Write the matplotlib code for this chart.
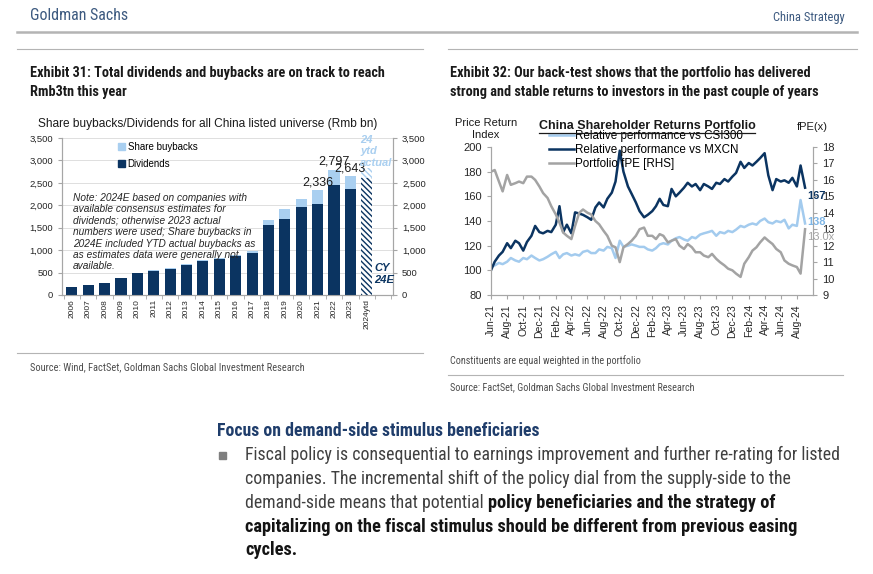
import matplotlib
matplotlib.use("Agg")
import matplotlib.pyplot as plt
import matplotlib.dates as mdates
import matplotlib.ticker as mtick
from matplotlib import font_manager
from matplotlib.lines import Line2D
from matplotlib.patches import Patch, Rectangle
import numpy as np
import pandas as pd


def pick_font(names):
    for n in names:
        try:
            font_manager.findfont(n, fallback_to_default=False)
            return n
        except ValueError:
            pass
    return "DejaVu Sans"


NARROW = pick_font(["Liberation Sans Narrow", "Roboto Condensed", "Liberation Sans"])
ARIAL = pick_font(["Liberation Sans", "Arial"])

# ── Colours ───────────────────────────────────────────────────────────────────
NAVY = "#0b3461"
LIGHT = "#a9cff0"
LINE_LIGHT = "#a3cbee"
GRAY = "#a3a3a3"
GS_BLUE = "#3d5a80"
SPINE = "#a6a6a6"

# ── Exhibit 31 data (Rmb bn) ─────────────────────────────────────────────────
years = ["2006", "2007", "2008", "2009", "2010", "2011", "2012", "2013", "2014",
         "2015", "2016", "2017", "2018", "2019", "2020", "2021", "2022", "2023",
         "2024ytd"]
dividends = [170, 225, 265, 385, 500, 545, 590, 665, 755, 800, 870, 935,
             1565, 1700, 1955, 2035, 2445, 2370, 2600]
buybacks = [0, 0, 0, 0, 0, 5, 5, 15, 20, 30, 30, 50,
            110, 225, 180, 301, 352, 273, 230]
labelled = {"2021": "2,336", "2022": "2,797", "2023": "2,643"}

# ── Exhibit 32 data (semi-monthly, Jun-21 .. Sep-24) ─────────────────────────
mxcn = [100, 107, 112, 115, 122, 118, 124, 122, 116, 123,
        128, 136, 131, 130, 132, 131, 137, 152, 131, 137,
        130, 147, 146, 145, 143, 141, 151, 155, 151, 158,
        163, 172, 197, 180, 168, 162, 155, 148, 143, 145,
        148, 152, 158, 153, 152, 166, 160, 163, 167, 171,
        168, 170, 165, 170, 168, 166, 171, 170, 174, 172,
        176, 179, 188, 183, 187, 185, 188, 191, 195, 177,
        165, 174, 172, 173, 171, 175, 168, 185, 167]
csi300 = [103, 104, 106, 105, 107, 110, 108, 107, 110, 109,
          112, 110, 108, 109, 111, 113, 115, 110, 113, 114,
          112, 113, 112, 115, 116, 114, 114, 117, 116, 119,
          118, 110, 124, 119, 120, 121, 120, 119, 119, 117,
          116, 118, 121, 122, 121, 124, 126, 127, 125, 124,
          127, 126, 129, 130, 131, 132, 128, 131, 130, 132,
          131, 133, 136, 135, 137, 138, 137, 140, 142, 139,
          138, 140, 139, 141, 134, 137, 136, 157, 138]
fpe = [16.5, 16.6, 15.9, 15.3, 16.3, 15.7, 15.8, 15.9, 15.8, 16.2,
       16.2, 16.0, 15.6, 15.2, 14.9, 14.4, 13.9, 13.4, 12.8, 12.6,
       12.4, 13.2, 14.0, 14.2, 14.0, 13.9, 13.5, 13.3, 12.9, 12.6,
       12.0, 11.9, 11.0, 11.9, 12.1, 12.3, 12.6, 13.0, 13.1, 12.6,
       12.6, 12.4, 12.7, 12.6, 12.2, 12.3, 12.4, 12.0, 11.8, 12.1,
       11.9, 11.6, 11.6, 11.4, 11.3, 11.5, 11.2, 11.0, 10.8, 10.6,
       10.5, 10.3, 10.1, 10.9, 11.3, 11.7, 11.9, 12.2, 12.5, 12.3,
       12.1, 11.8, 11.6, 11.1, 10.9, 10.8, 10.7, 10.3, 13.0]
dates = pd.date_range("2021-06-01", periods=len(mxcn), freq="SMS")
month_ticks = pd.date_range("2021-06-01", "2024-08-01", freq="2MS")

# ── Figure helpers (pixel coords, origin top-left) ───────────────────────────
W, H = 873, 574
fig = plt.figure(figsize=(W / 100, H / 100), dpi=100)
fig.patch.set_facecolor("white")


def fx(px):
    return px / W


def fy(py):
    return 1 - py / H


def text(px, py, s, **kw):
    kw.setdefault("va", "center")
    return fig.text(fx(px), fy(py), s, **kw)


def hline(x0, x1, y, color="#b4b4b4", lw=0.8):
    fig.add_artist(Line2D([fx(x0), fx(x1)], [fy(y), fy(y)], color=color, lw=lw))


# ── Page header ──────────────────────────────────────────────────────────────
text(30, 16, "Goldman Sachs", fontsize=11.5, color=GS_BLUE, family=NARROW)
text(845, 18, "China Strategy", fontsize=9, color=GS_BLUE, family=NARROW, ha="right")
hline(17, 857, 32, lw=1.8)
hline(17, 423, 49)
hline(448, 857, 49)

TITLE = dict(fontsize=10.3, weight="bold", family=NARROW, color="#1a1a1a")
text(30, 73, "Exhibit 31: Total dividends and buybacks are on track to reach", **TITLE)
text(30, 92, "Rmb3tn this year", **TITLE)
text(450, 73, "Exhibit 32: Our back-test shows that the portfolio has delivered", **TITLE)
text(450, 92, "strong and stable returns to investors in the past couple of years", **TITLE)

# ── Exhibit 31: bar chart ────────────────────────────────────────────────────
ax1 = fig.add_axes([fx(62), fy(295), (393 - 62) / W, (295 - 138) / H])
x = np.arange(len(years))
n = len(years) - 1
bw = 0.68
ax1.bar(x[:n], dividends[:n], width=bw, color=NAVY, zorder=3)
ax1.bar(x[:n], buybacks[:n], bottom=dividends[:n], width=bw, color=LIGHT, zorder=3)
ax1.bar(x[n], dividends[n], width=bw, facecolor="white", edgecolor=NAVY,
        hatch="\\\\\\\\\\\\", lw=0, zorder=3)
ax1.bar(x[n], buybacks[n], bottom=dividends[n], width=bw, facecolor="white",
        edgecolor=LIGHT, hatch="\\\\\\\\\\\\", lw=0, zorder=3)

for i, yr in enumerate(years):
    if yr in labelled:
        ax1.annotate(labelled[yr], (i, dividends[i] + buybacks[i]),
                     xytext=(0, 1.5), textcoords="offset points", ha="center",
                     va="bottom", fontsize=9, family=ARIAL, color="#1a1a1a", zorder=4)

ax1.set_xlim(-0.6, 19.6)
ax1.set_ylim(0, 3500)
ax1.set_yticks(np.arange(0, 3501, 500))
ax1.yaxis.set_major_formatter(mtick.FuncFormatter(lambda v, _: f"{int(v):,}"))
ax1.yaxis.grid(True, color="#d9d9d9", lw=0.6, zorder=0)
ax1.set_axisbelow(True)
ax1.set_xticks(x)
ax1.set_xticklabels(years, rotation=90, fontsize=6, family=ARIAL, color="#262626")
ax1.set_xticks(np.arange(-0.5, 19.6, 1), minor=True)
ax1.tick_params(axis="x", which="major", length=0, pad=3)
ax1.tick_params(axis="x", which="minor", length=3, color=SPINE)
ax1.tick_params(axis="y", labelsize=6.8, length=3, color=SPINE, labelcolor="#262626")
for lab in ax1.get_yticklabels():
    lab.set_family(ARIAL)
for side in ["left", "bottom", "right"]:
    ax1.spines[side].set_color(SPINE)
    ax1.spines[side].set_linewidth(0.8)
ax1.spines["top"].set_visible(False)

ax1r = ax1.twinx()
ax1r.set_ylim(0, 3500)
ax1r.set_yticks(np.arange(0, 3501, 500))
ax1r.yaxis.set_major_formatter(mtick.FuncFormatter(lambda v, _: f"{int(v):,}"))
ax1r.tick_params(axis="y", labelsize=6.8, length=3, color=SPINE, labelcolor="#262626")
for lab in ax1r.get_yticklabels():
    lab.set_family(ARIAL)
for side in ["left", "bottom", "right"]:
    ax1r.spines[side].set_color(SPINE)
    ax1r.spines[side].set_linewidth(0.8)
ax1r.spines["top"].set_visible(False)

ax1.legend(handles=[Patch(color=LIGHT), Patch(color=NAVY)],
           labels=["Share buybacks", "Dividends"], loc="upper left",
           bbox_to_anchor=(fx(113), fy(137)), bbox_transform=fig.transFigure,
           frameon=False, handlelength=0.7, handleheight=0.7,
           handletextpad=0.3, labelspacing=0.75, borderpad=0,
           prop={"family": ARIAL, "size": 7})

text(38, 124, "Share buybacks/Dividends for all China listed universe (Rmb bn)",
     fontsize=8.6, family=ARIAL, color="#1a1a1a")

note_lines = ["Note: 2024E based on companies with",
              "available consensus estimates for",
              "dividends; otherwise 2023 actual",
              "numbers were used; Share buybacks in",
              "2024E included YTD actual buybacks as",
              "as estimates data were generally not",
              "available."]
for k, ln in enumerate(note_lines):
    text(73, 198 + k * 11.4, ln, fontsize=7.3, style="italic", family=ARIAL,
         color="#262626", zorder=5)

for k, ln in enumerate(["24", "ytd", "actual"]):
    text(360, 140 + k * 11.5, ln, fontsize=8, style="italic", weight="bold",
         family=ARIAL, color=LIGHT)
for k, ln in enumerate(["CY", "24E"]):
    text(374, 268 + k * 11.5, ln, fontsize=8, style="italic", weight="bold",
         family=ARIAL, color=NAVY)

hline(17, 423, 353)
text(30, 367, "Source: Wind, FactSet, Goldman Sachs Global Investment Research",
     fontsize=7.45, family=NARROW, color="#4d4d4d")

# ── Exhibit 32: line chart ───────────────────────────────────────────────────
ax2 = fig.add_axes([fx(491), fy(295), (813 - 491) / W, (295 - 147) / H])
ax2.plot(dates, csi300, color=LINE_LIGHT, lw=1.8)
ax2.plot(dates, mxcn, color=NAVY, lw=1.8)
ax2.set_ylim(80, 200)
ax2.set_yticks(np.arange(80, 201, 20))
ax2.set_xlim(pd.Timestamp("2021-06-01"), pd.Timestamp("2024-10-01"))
ax2.set_xticks(month_ticks)
ax2.xaxis.set_major_formatter(mdates.DateFormatter("%b-%y"))
ax2.tick_params(axis="x", labelrotation=90, labelsize=7.5, length=3, color=SPINE,
                labelcolor="#262626")
ax2.tick_params(axis="y", labelsize=8, length=3, color=SPINE, labelcolor="#262626")
for lab in ax2.get_xticklabels() + ax2.get_yticklabels():
    lab.set_family(ARIAL)

ax2r = ax2.twinx()
ax2r.plot(dates, fpe, color=GRAY, lw=1.8)
ax2r.set_ylim(9, 18)
ax2r.set_yticks(np.arange(9, 19, 1))
ax2r.tick_params(axis="y", labelsize=8, length=3, color=SPINE, labelcolor="#262626")
for lab in ax2r.get_yticklabels():
    lab.set_family(ARIAL)
for a in (ax2, ax2r):
    for side in ["left", "bottom", "right"]:
        a.spines[side].set_color(SPINE)
        a.spines[side].set_linewidth(0.8)
    a.spines["top"].set_visible(False)

ax2.annotate(f"{mxcn[-1]}", (dates[-1], mxcn[-1]), xytext=(2, -8.5),
             textcoords="offset pixels", ha="left", va="center", fontsize=8,
             weight="bold", family=ARIAL, color=NAVY)
ax2.annotate(f"{csi300[-1]}", (dates[-1], csi300[-1]), xytext=(2, 1),
             textcoords="offset pixels", ha="left", va="center", fontsize=8,
             weight="bold", family=ARIAL, color="#7fb6e6")
ax2r.annotate(f"{fpe[-1]:.1f}x", (dates[-1], fpe[-1]), xytext=(2, -7.5),
              textcoords="offset pixels", ha="left", va="center", fontsize=8,
              family=ARIAL, color=GRAY)

ax2r.legend(handles=[Line2D([], [], color=LINE_LIGHT, lw=1.8),
                     Line2D([], [], color=NAVY, lw=1.8),
                     Line2D([], [], color=GRAY, lw=1.8)],
            labels=["Relative performance vs CSI300",
                    "Relative performance vs MXCN",
                    "Portfolio fPE [RHS]"],
            loc="upper left", bbox_to_anchor=(fx(549), fy(130)),
            bbox_transform=fig.transFigure, frameon=False,
            handlelength=2.1, handletextpad=0.15, labelspacing=0.18,
            borderpad=0, borderaxespad=0, prop={"family": ARIAL, "size": 8.4})

text(486, 123, "Price Return", fontsize=8, family=ARIAL, ha="center", color="#1a1a1a")
text(486, 135, "Index", fontsize=8, family=ARIAL, ha="center", color="#1a1a1a")
text(812, 127, "fPE(x)", fontsize=8, family=ARIAL, ha="center", color="#1a1a1a")

ttl = text(647, 126, "China Shareholder Returns Portfolio", fontsize=9,
           weight="bold", family=ARIAL, ha="center", color="#1a1a1a")
renderer = fig.canvas.get_renderer()
bb = ttl.get_window_extent(renderer)
fig.add_artist(Line2D([bb.x0 / W, bb.x1 / W], [(bb.y0 - 0.5) / H] * 2,
                      color="#1a1a1a", lw=0.9))

SRC = dict(fontsize=7.3, family=NARROW, color="#4d4d4d")
text(450, 361, "Constituents are equal weighted in the portfolio", **SRC)
hline(448, 843, 375)
text(450, 387, "Source: FactSet, Goldman Sachs Global Investment Research", **SRC)

# ── Body text ────────────────────────────────────────────────────────────────
text(217, 431, "Focus on demand-side stimulus beneficiaries", fontsize=12.8,
     weight="bold", family=NARROW, color="#1f3d6b")
fig.add_artist(Rectangle((fx(219), fy(459)), 7 / W, 7 / H, color="#7f7f7f"))

BODY = dict(fontsize=12.8, family=NARROW, color="#404040")
BOLD = dict(fontsize=13.2, family=NARROW, color="#141414", weight="bold")
text(245, 455, "Fiscal policy is consequential to earnings improvement and further re-rating for listed", **BODY)
text(245, 479, "companies. The incremental shift of the policy dial from the supply-side to the", **BODY)
t3 = text(245, 503, "demand-side means that potential ", **BODY)
bb3 = t3.get_window_extent(renderer)
fig.text(bb3.x1 / W, fy(503), "policy beneficiaries and the strategy of", va="center", **BOLD)
text(245, 527, "capitalizing on the fiscal stimulus should be different from previous easing", **BOLD)
text(245, 550, "cycles.", **BOLD)

fig.savefig("out.png", dpi=100, facecolor="white")
